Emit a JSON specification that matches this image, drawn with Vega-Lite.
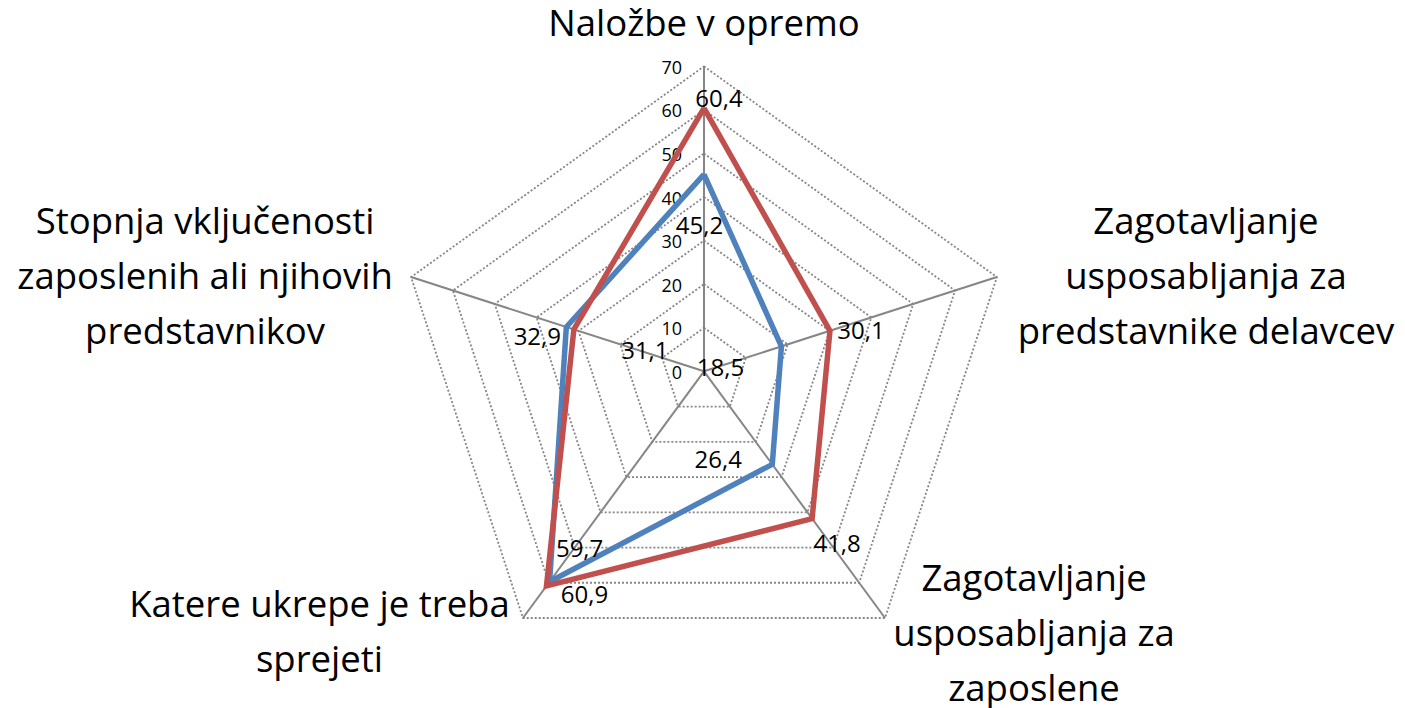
{
  "$schema": "https://vega.github.io/schema/vega-lite/v6.json",
  "width": 1405,
  "height": 708,
  "autosize": {"type": "fit", "contains": "padding"},
  "padding": 0,
  "background": "white",
  "config": {
    "view": {"stroke": null},
    "locale": {"number": {"decimal": ",", "thousands": ".", "grouping": [3], "currency": ["", " €"]}},
    "text": {"font": "Open Sans", "color": "#000000"}
  },
  "datasets": {
    "serije": [
      {"i": 0, "serija": "Serija 1", "v": 45.2},
      {"i": 1, "serija": "Serija 1", "v": 18.5},
      {"i": 2, "serija": "Serija 1", "v": 26.4},
      {"i": 3, "serija": "Serija 1", "v": 59.7},
      {"i": 4, "serija": "Serija 1", "v": 32.9},
      {"i": 5, "serija": "Serija 1", "v": 45.2},
      {"i": 0, "serija": "Serija 2", "v": 60.4},
      {"i": 1, "serija": "Serija 2", "v": 30.1},
      {"i": 2, "serija": "Serija 2", "v": 41.8},
      {"i": 3, "serija": "Serija 2", "v": 60.9},
      {"i": 4, "serija": "Serija 2", "v": 31.1},
      {"i": 5, "serija": "Serija 2", "v": 60.4}
    ],
    "mreza": [
      {"nivo": 10, "k": [0, 1, 2, 3, 4, 5]},
      {"nivo": 20, "k": [0, 1, 2, 3, 4, 5]},
      {"nivo": 30, "k": [0, 1, 2, 3, 4, 5]},
      {"nivo": 40, "k": [0, 1, 2, 3, 4, 5]},
      {"nivo": 50, "k": [0, 1, 2, 3, 4, 5]},
      {"nivo": 60, "k": [0, 1, 2, 3, 4, 5]},
      {"nivo": 70, "k": [0, 1, 2, 3, 4, 5]}
    ],
    "oznake": [
      {"nivo": 0}, {"nivo": 10}, {"nivo": 20}, {"nivo": 30},
      {"nivo": 40}, {"nivo": 50}, {"nivo": 60}, {"nivo": 70}
    ],
    "kategorije": [
      {"i": 0, "v": 70, "kat": "Naložbe v opremo"},
      {"i": 1, "v": 70, "kat": "Zagotavljanje\nusposabljanja za\npredstavnike delavcev"},
      {"i": 2, "v": 70, "kat": "Zagotavljanje\nusposabljanja za\nzaposlene"},
      {"i": 3, "v": 70, "kat": "Katere ukrepe je treba\nsprejeti"},
      {"i": 4, "v": 70, "kat": "Stopnja vključenosti\nzaposlenih ali njihovih\npredstavnikov"}
    ]
  },
  "layer": [
    {
      "data": {"name": "mreza"},
      "transform": [
        {"flatten": ["k"]},
        {"calculate": "(90 - datum.k * 72) * PI / 180", "as": "a"},
        {"calculate": "datum.nivo * cos(datum.a)", "as": "x"},
        {"calculate": "datum.nivo * sin(datum.a)", "as": "y"}
      ],
      "mark": {"type": "line", "color": "#868686", "strokeWidth": 1.8, "strokeDash": [2, 2]},
      "encoding": {
        "x": {"field": "x", "type": "quantitative", "scale": {"domain": [-160, 159.32], "nice": false, "zero": false}, "axis": null},
        "y": {"field": "y", "type": "quantitative", "scale": {"domain": [-75.68, 85.23], "nice": false, "zero": false}, "axis": null},
        "detail": {"field": "nivo", "type": "nominal"},
        "order": {"field": "k", "type": "quantitative"}
      }
    },
    {
      "data": {"name": "kategorije"},
      "transform": [
        {"calculate": "(90 - datum.i * 72) * PI / 180", "as": "a"},
        {"calculate": "datum.v * cos(datum.a)", "as": "x"},
        {"calculate": "datum.v * sin(datum.a)", "as": "y"}
      ],
      "encoding": {
        "x": {"field": "x", "type": "quantitative", "scale": {"domain": [-160, 159.32], "nice": false, "zero": false}, "axis": null},
        "y": {"field": "y", "type": "quantitative", "scale": {"domain": [-75.68, 85.23], "nice": false, "zero": false}, "axis": null}
      },
      "layer": [
        {
          "mark": {"type": "rule", "color": "#868686", "strokeWidth": 2},
          "encoding": {"x2": {"datum": 0}, "y2": {"datum": 0}}
        },
        {
          "transform": [{"filter": "datum.i === 0"}],
          "mark": {"type": "text", "align": "center", "baseline": "alphabetic", "fontSize": 36.5, "lineHeight": 55, "lineBreak": "\n", "dx": 0, "dy": -30},
          "encoding": {"text": {"field": "kat", "type": "nominal"}}
        },
        {
          "transform": [{"filter": "datum.i === 1"}],
          "mark": {"type": "text", "align": "center", "baseline": "alphabetic", "fontSize": 36.5, "lineHeight": 55, "lineBreak": "\n", "dx": 209, "dy": -43},
          "encoding": {"text": {"field": "kat", "type": "nominal"}}
        },
        {
          "transform": [{"filter": "datum.i === 2"}],
          "mark": {"type": "text", "align": "center", "baseline": "alphabetic", "fontSize": 36.5, "lineHeight": 55, "lineBreak": "\n", "dx": 149, "dy": -27.5},
          "encoding": {"text": {"field": "kat", "type": "nominal"}}
        },
        {
          "transform": [{"filter": "datum.i === 3"}],
          "mark": {"type": "text", "align": "center", "baseline": "alphabetic", "fontSize": 36.5, "lineHeight": 55, "lineBreak": "\n", "dx": -203.5, "dy": -1},
          "encoding": {"text": {"field": "kat", "type": "nominal"}}
        },
        {
          "transform": [{"filter": "datum.i === 4"}],
          "mark": {"type": "text", "align": "center", "baseline": "alphabetic", "fontSize": 36.5, "lineHeight": 55, "lineBreak": "\n", "dx": -206, "dy": -43},
          "encoding": {"text": {"field": "kat", "type": "nominal"}}
        }
      ]
    },
    {
      "data": {"name": "oznake"},
      "mark": {"type": "text", "align": "right", "baseline": "alphabetic", "fontSize": 18, "dx": -22, "dy": 7.5, "color": "#000000"},
      "encoding": {
        "x": {"datum": 0, "type": "quantitative", "scale": {"domain": [-160, 159.32], "nice": false, "zero": false}, "axis": null},
        "y": {"field": "nivo", "type": "quantitative", "scale": {"domain": [-75.68, 85.23], "nice": false, "zero": false}, "axis": null},
        "text": {"field": "nivo", "type": "quantitative", "format": "d"}
      }
    },
    {
      "data": {"name": "serije"},
      "transform": [
        {"calculate": "(90 - datum.i * 72) * PI / 180", "as": "a"},
        {"calculate": "datum.v * cos(datum.a)", "as": "x"},
        {"calculate": "datum.v * sin(datum.a)", "as": "y"}
      ],
      "encoding": {
        "x": {"field": "x", "type": "quantitative", "scale": {"domain": [-160, 159.32], "nice": false, "zero": false}, "axis": null},
        "y": {"field": "y", "type": "quantitative", "scale": {"domain": [-75.68, 85.23], "nice": false, "zero": false}, "axis": null}
      },
      "layer": [
        {
          "transform": [{"filter": "datum.serija === 'Serija 1'"}],
          "mark": {"type": "line", "color": "#4F81BD", "strokeWidth": 5.5, "strokeJoin": "miter"},
          "encoding": {"order": {"field": "i", "type": "quantitative"}}
        },
        {
          "transform": [{"filter": "datum.serija === 'Serija 2'"}],
          "mark": {"type": "line", "color": "#C0504D", "strokeWidth": 5.5, "strokeJoin": "miter"},
          "encoding": {"order": {"field": "i", "type": "quantitative"}}
        },
        {
          "transform": [{"filter": "datum.serija === 'Serija 1' && datum.i === 0"}],
          "mark": {"type": "text", "align": "center", "baseline": "alphabetic", "fontSize": 24, "dx": -4.5, "dy": 60},
          "encoding": {"text": {"field": "v", "type": "quantitative", "format": ".1f"}}
        },
        {
          "transform": [{"filter": "datum.serija === 'Serija 1' && datum.i === 1"}],
          "mark": {"type": "text", "align": "center", "baseline": "alphabetic", "fontSize": 24, "dx": -61, "dy": 30},
          "encoding": {"text": {"field": "v", "type": "quantitative", "format": ".1f"}}
        },
        {
          "transform": [{"filter": "datum.serija === 'Serija 1' && datum.i === 2"}],
          "mark": {"type": "text", "align": "center", "baseline": "alphabetic", "fontSize": 24, "dx": -54, "dy": 4},
          "encoding": {"text": {"field": "v", "type": "quantitative", "format": ".1f"}}
        },
        {
          "transform": [{"filter": "datum.serija === 'Serija 1' && datum.i === 3"}],
          "mark": {"type": "text", "align": "center", "baseline": "alphabetic", "fontSize": 24, "dx": 30, "dy": -24.5},
          "encoding": {"text": {"field": "v", "type": "quantitative", "format": ".1f"}}
        },
        {
          "transform": [{"filter": "datum.serija === 'Serija 1' && datum.i === 4"}],
          "mark": {"type": "text", "align": "center", "baseline": "alphabetic", "fontSize": 24, "dx": -29, "dy": 18},
          "encoding": {"text": {"field": "v", "type": "quantitative", "format": ".1f"}}
        },
        {
          "transform": [{"filter": "datum.serija === 'Serija 2' && datum.i === 0"}],
          "mark": {"type": "text", "align": "center", "baseline": "alphabetic", "fontSize": 24, "dx": 15, "dy": -1},
          "encoding": {"text": {"field": "v", "type": "quantitative", "format": ".1f"}}
        },
        {
          "transform": [{"filter": "datum.serija === 'Serija 2' && datum.i === 1"}],
          "mark": {"type": "text", "align": "center", "baseline": "alphabetic", "fontSize": 24, "dx": 31, "dy": 8},
          "encoding": {"text": {"field": "v", "type": "quantitative", "format": ".1f"}}
        },
        {
          "transform": [{"filter": "datum.serija === 'Serija 2' && datum.i === 2"}],
          "mark": {"type": "text", "align": "center", "baseline": "alphabetic", "fontSize": 24, "dx": 25, "dy": 33},
          "encoding": {"text": {"field": "v", "type": "quantitative", "format": ".1f"}}
        },
        {
          "transform": [{"filter": "datum.serija === 'Serija 2' && datum.i === 3"}],
          "mark": {"type": "text", "align": "center", "baseline": "alphabetic", "fontSize": 24, "dx": 38, "dy": 17},
          "encoding": {"text": {"field": "v", "type": "quantitative", "format": ".1f"}}
        },
        {
          "transform": [{"filter": "datum.serija === 'Serija 2' && datum.i === 4"}],
          "mark": {"type": "text", "align": "center", "baseline": "alphabetic", "fontSize": 24, "dx": 71, "dy": 30},
          "encoding": {"text": {"field": "v", "type": "quantitative", "format": ".1f"}}
        }
      ]
    }
  ]
}
